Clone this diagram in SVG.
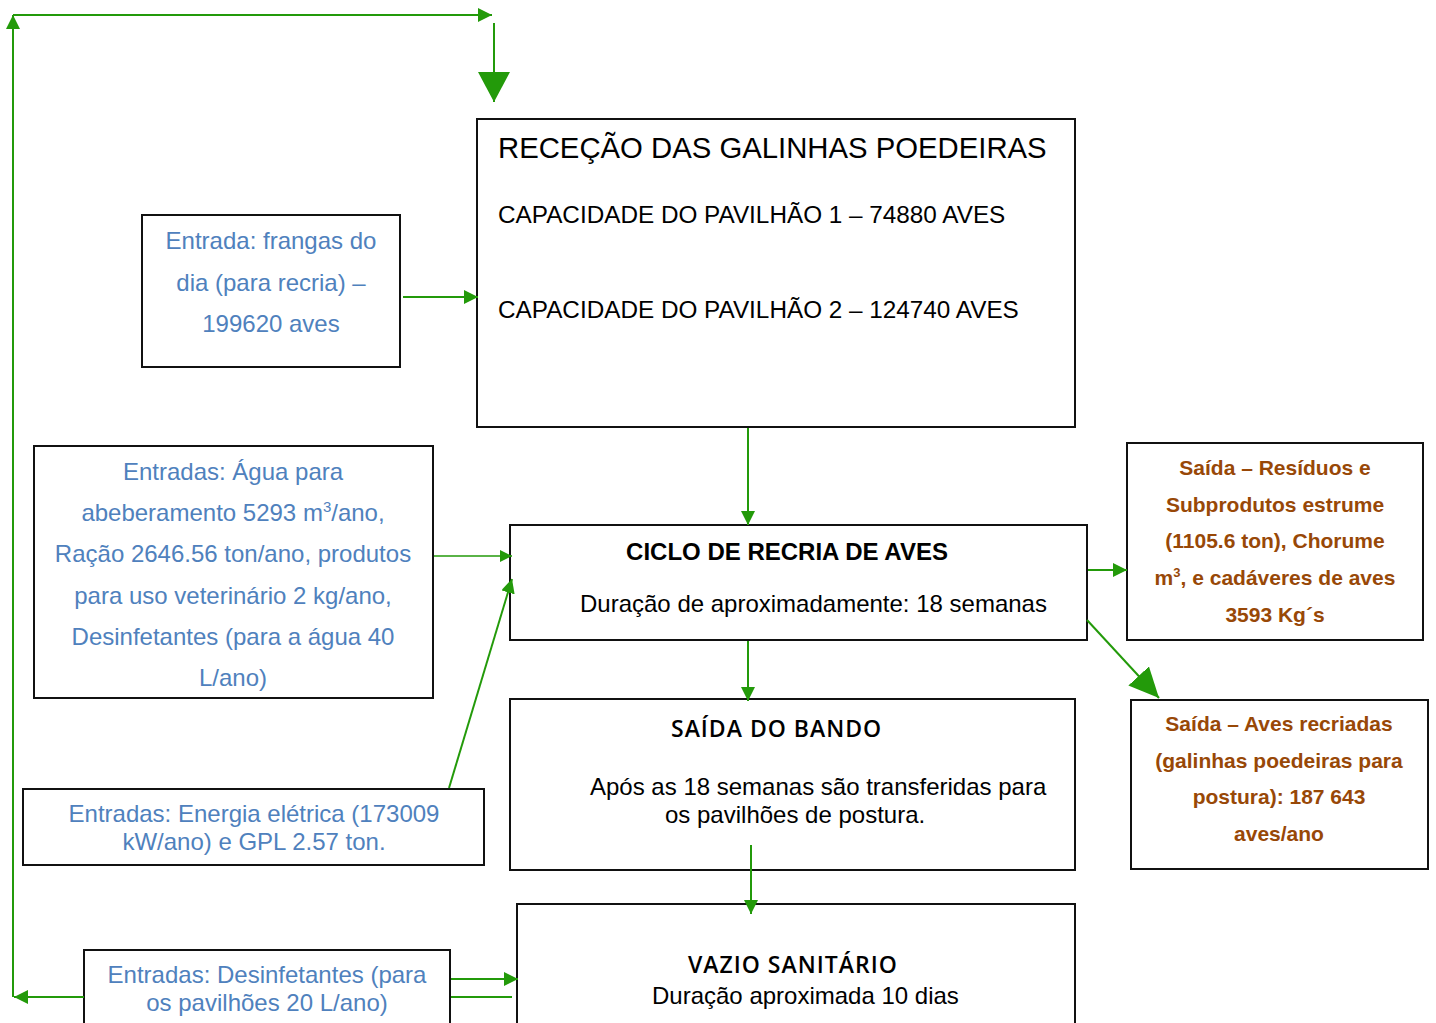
<svg xmlns="http://www.w3.org/2000/svg" width="1436" height="1023" viewBox="0 0 1436 1023">
<style>
.box{fill:#fff;stroke:#111;stroke-width:2}
.t{font-family:"Liberation Sans",Arial,sans-serif;font-size:24px;fill:#000}
.blue{font-family:"Liberation Sans",Arial,sans-serif;font-size:24px;fill:#4f81bd;text-anchor:middle}
.brown{font-family:"Liberation Sans",Arial,sans-serif;font-size:21px;font-weight:bold;fill:#984807;text-anchor:middle}
.cal{font-family:"Open Sans","Noto Sans",sans-serif;font-size:23px;font-weight:600;fill:#000;letter-spacing:1px}
.c{stroke:#239a0a;stroke-width:2;fill:none}
.thin{stroke-width:1.4}
</style>
<defs>
<marker id="a" viewBox="0 0 14 14" refX="14" refY="7" markerWidth="14" markerHeight="14" markerUnits="userSpaceOnUse" orient="auto"><path d="M0,0 L14,7 L0,14 z" fill="#239a0a"/></marker>
<marker id="as" viewBox="0 0 12 12" refX="12" refY="6" markerWidth="12" markerHeight="12" markerUnits="userSpaceOnUse" orient="auto"><path d="M0,0 L12,6 L0,12 z" fill="#239a0a"/></marker>
<marker id="aL" viewBox="0 0 30 32" refX="30" refY="16" markerWidth="30" markerHeight="32" markerUnits="userSpaceOnUse" orient="auto"><path d="M0,0 L30,16 L0,32 z" fill="#239a0a"/></marker>
<marker id="aM" viewBox="0 0 30 28" refX="30" refY="14" markerWidth="30" markerHeight="28" markerUnits="userSpaceOnUse" orient="auto"><path d="M0,0 L30,14 L0,28 z" fill="#239a0a"/></marker>
</defs>
<rect width="1436" height="1023" fill="#fff"/>

<g id="rececao">
<rect class="box" x="477" y="119" width="598" height="308"/>
<text class="t" x="498" y="158" style="font-size:29.3px">RECEÇÃO DAS GALINHAS POEDEIRAS</text>
<text class="t" x="498" y="223" style="font-size:24.3px">CAPACIDADE DO PAVILHÃO 1 – 74880 AVES</text>
<text class="t" x="498" y="318" style="font-size:24.3px">CAPACIDADE DO PAVILHÃO 2 – 124740 AVES</text>
</g>

<g id="entrada-frangas">
<rect class="box" x="142" y="215" width="258" height="152"/>
<text class="blue" x="271" y="249">Entrada: frangas do</text>
<text class="blue" x="271" y="291">dia (para recria) –</text>
<text class="blue" x="271" y="332">199620 aves</text>
</g>

<g id="entradas-agua">
<rect class="box" x="34" y="446" width="399" height="252"/>
<text class="blue" x="233" y="480">Entradas: Água para</text>
<text class="blue" x="233" y="521">abeberamento 5293 m<tspan font-size="15" dy="-9">3</tspan><tspan dy="9">/ano,</tspan></text>
<text class="blue" x="233" y="562">Ração 2646.56 ton/ano, produtos</text>
<text class="blue" x="233" y="604">para uso veterinário 2 kg/ano,</text>
<text class="blue" x="233" y="645">Desinfetantes (para a água 40</text>
<text class="blue" x="233" y="686">L/ano)</text>
</g>

<g id="entradas-energia">
<rect class="box" x="23" y="789" width="461" height="76"/>
<text class="blue" x="254" y="822">Entradas: Energia elétrica (173009</text>
<text class="blue" x="254" y="850">kW/ano) e GPL 2.57 ton.</text>
</g>

<g id="entradas-desinf">
<rect class="box" x="84" y="950" width="366" height="80"/>
<text class="blue" x="267" y="983">Entradas: Desinfetantes (para</text>
<text class="blue" x="267" y="1011">os pavilhões 20 L/ano)</text>
</g>

<g id="ciclo">
<rect class="box" x="510" y="525" width="577" height="115"/>
<text class="t" x="787" y="560" style="font-size:24px;font-weight:bold" text-anchor="middle">CICLO DE RECRIA DE AVES</text>
<text class="t" x="580" y="612">Duração de aproximadamente: 18 semanas</text>
</g>

<g id="saida-bando">
<rect class="box" x="510" y="699" width="565" height="171"/>
<text class="cal" x="671" y="737">SAÍDA DO BANDO</text>
<text class="t" x="590" y="795">Após as 18 semanas são transferidas para</text>
<text class="t" x="665" y="823">os pavilhões de postura.</text>
</g>

<g id="vazio">
<rect class="box" x="517" y="904" width="558" height="130"/>
<text class="cal" x="688" y="973">VAZIO SANITÁRIO</text>
<text class="t" x="652" y="1004">Duração aproximada 10 dias</text>
</g>

<g id="saida-residuos">
<rect class="box" x="1127" y="443" width="296" height="197"/>
<text class="brown" x="1275" y="475">Saída – Resíduos e</text>
<text class="brown" x="1275" y="512">Subprodutos estrume</text>
<text class="brown" x="1275" y="548">(1105.6 ton), Chorume</text>
<text class="brown" x="1275" y="585">m<tspan font-size="13" dy="-8">3</tspan><tspan dy="8">, e cadáveres de aves</tspan></text>
<text class="brown" x="1275" y="622">3593 Kg´s</text>
</g>

<g id="saida-aves">
<rect class="box" x="1131" y="700" width="297" height="169"/>
<text class="brown" x="1279" y="731">Saída – Aves recriadas</text>
<text class="brown" x="1279" y="768">(galinhas poedeiras para</text>
<text class="brown" x="1279" y="804">postura): 187 643</text>
<text class="brown" x="1279" y="841">aves/ano</text>
</g>

<g id="connectors">
<line class="c" x1="84" y1="997" x2="14" y2="997" marker-end="url(#a)"/>
<line class="c" x1="13" y1="997" x2="13" y2="15" marker-end="url(#a)"/>
<line class="c" x1="13" y1="15" x2="492" y2="15" marker-end="url(#a)"/>
<line class="c" x1="494" y1="23" x2="494" y2="102" stroke-width="3" marker-end="url(#aL)"/>
<line class="c" x1="403" y1="297" x2="478" y2="297" marker-end="url(#a)"/>
<line class="c" x1="748" y1="428" x2="748" y2="525" marker-end="url(#a)"/>
<line class="c thin" x1="434" y1="556" x2="512" y2="556" marker-end="url(#as)"/>
<line class="c" x1="449" y1="788" x2="512" y2="579" marker-end="url(#a)"/>
<line class="c" x1="1088" y1="570" x2="1127" y2="570" marker-end="url(#a)"/>
<line class="c" x1="1087" y1="620" x2="1159" y2="698" stroke-width="2.5" marker-end="url(#aM)"/>
<line class="c" x1="748" y1="641" x2="748" y2="701" marker-end="url(#a)"/>
<line class="c" x1="751" y1="845" x2="751" y2="914" marker-end="url(#a)"/>
<line class="c" x1="451" y1="979" x2="518" y2="979" marker-end="url(#a)"/>
<line class="c" x1="451" y1="997" x2="512" y2="997"/>
</g>
</svg>
